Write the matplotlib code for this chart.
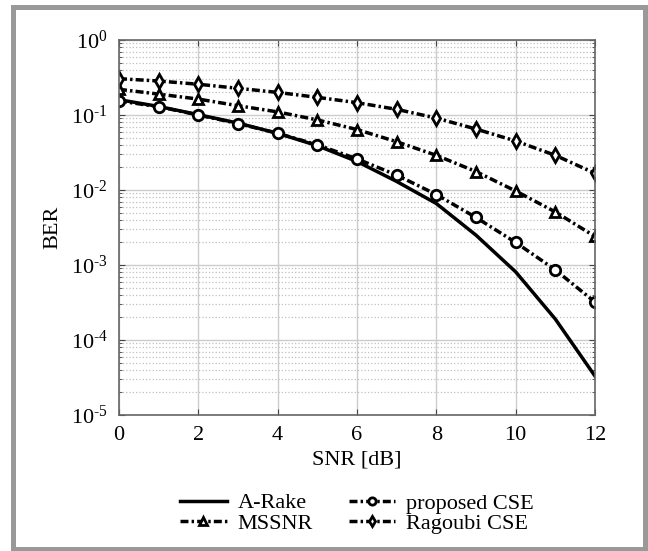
import matplotlib
matplotlib.use("Agg")
import matplotlib.pyplot as plt
from matplotlib.patches import Rectangle
from matplotlib.ticker import LogLocator, MultipleLocator, NullFormatter, FuncFormatter
import numpy as np

plt.rcParams["font.family"] = "Liberation Serif"
plt.rcParams["mathtext.fontset"] = "custom"
plt.rcParams["mathtext.rm"] = "Liberation Serif"
plt.rcParams["mathtext.it"] = "Liberation Serif"

# SNR values in dB
snr = [0, 1, 2, 3, 4, 5, 6, 7, 8, 9, 10, 11, 12]

# BER curves
ber_arake = [0.160, 0.130, 0.101, 0.078, 0.057, 0.039, 0.024, 0.0130, 0.0066,
             0.0025, 0.00081, 0.00019, 0.000033]
ber_mssnr = [0.220, 0.190, 0.163, 0.133, 0.110, 0.086, 0.064, 0.044, 0.029,
             0.0176, 0.0097, 0.0051, 0.0024]
ber_proposed = [0.154, 0.129, 0.100, 0.077, 0.057, 0.040, 0.026, 0.0158, 0.0087,
                0.0043, 0.0020, 0.00086, 0.00032]
ber_ragoubi = [0.305, 0.284, 0.257, 0.227, 0.200, 0.172, 0.146, 0.119, 0.091,
               0.065, 0.045, 0.029, 0.0167]

labels = ["A-Rake", "MSSNR", "proposed CSE", "Ragoubi CSE"]

fig = plt.figure(figsize=(6.48, 5.51), dpi=100)
ax = fig.add_axes([119 / 648, 1 - 415 / 551, 476 / 648, 375 / 551])

dashdot = (0, (2.3, 0.9, 0.7, 0.9))
mk = dict(markersize=7.5, markerfacecolor="white", markeredgecolor="black",
          markeredgewidth=2)
l1, = ax.plot(snr, ber_arake, color="black", lw=2.5, ls="-")
l2, = ax.plot(snr, ber_mssnr, color="black", lw=2.5, ls=dashdot, marker="^", **mk)
l3, = ax.plot(snr, ber_proposed, color="black", lw=2.5, ls=dashdot, marker="o", **mk)
l4, = ax.plot(snr, ber_ragoubi, color="black", lw=2.5, ls=dashdot, marker="d", **mk)

ax.set_yscale("log")
ax.set_xlim(0, 12)
ax.set_ylim(1e-5, 1)
ax.xaxis.set_major_locator(MultipleLocator(2))
ax.yaxis.set_major_locator(LogLocator(base=10, numticks=10))
ax.yaxis.set_minor_locator(LogLocator(base=10, subs=range(2, 10), numticks=20))
ax.yaxis.set_minor_formatter(NullFormatter())


def dec_label(v, pos):
    e = int(round(np.log10(v)))
    if e < 0:
        return r"$10^{\text{-}%d}$" % (-e)
    return r"$10^{%d}$" % e


ax.yaxis.set_major_formatter(FuncFormatter(dec_label))

ax.grid(True, which="major", color="#cccccc", lw=1, ls="-")
ax.grid(True, which="minor", axis="y", color="#c0c0c0", lw=0.9, ls=":")
ax.set_axisbelow(True)

ax.tick_params(which="both", direction="in", top=True, right=True,
               labelsize=16, color="#444444")
ax.tick_params(which="major", length=4, pad=8)
ax.tick_params(which="minor", length=2.5)
for s in ax.spines.values():
    s.set_color("#666666")
    s.set_linewidth(1.2)

ax.set_xlabel("SNR [dB]", fontsize=16, labelpad=4)
ax.set_ylabel("BER", fontsize=16, labelpad=6)

leg = fig.legend([l1, l2, l3, l4], labels, loc="center", ncol=2,
                 bbox_to_anchor=(357 / 648, 1 - 513.5 / 551),
                 frameon=False, fontsize=16, handlelength=2.1,
                 handletextpad=0.5, columnspacing=1.6, labelspacing=0.0,
                 markerscale=0.7)

# gray picture frame
fig.patches.append(Rectangle((12.5 / 648, 2.5 / 551), 632 / 648, 542 / 551,
                             transform=fig.transFigure, fill=False,
                             edgecolor="#999999", lw=3.6))

fig.savefig("out.png", dpi=100)
